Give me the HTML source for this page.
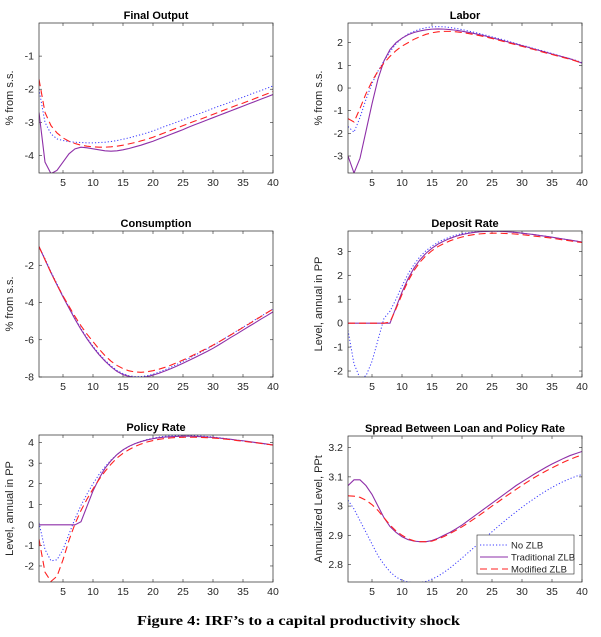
<!DOCTYPE html>
<html><head><meta charset="utf-8">
<style>
html,body{margin:0;padding:0;background:#fff;}
svg{display:block;font-family:"Liberation Sans",sans-serif;}
</style></head>
<body>
<svg id="fig" width="601" height="637" viewBox="0 0 601 637">
<text x="137" y="625" textLength="323" lengthAdjust="spacingAndGlyphs" font-family="Liberation Serif,serif" font-weight="bold" font-size="13.5">Figure 4: IRF’s to a capital productivity shock</text>
</svg>
<script>
const periods = Array.from({length:40},(_,i)=>i+1);
const xTicks = [5,10,15,20,25,30,35,40];
const panelTitles = ["Final Output","Labor","Consumption","Deposit Rate","Policy Rate","Spread Between Loan and Policy Rate"];
const yLabels = ["% from s.s.","% from s.s.","% from s.s.","Level, annual in PP","Level, annual in PP","Annualized Level, PPt"];
const yTicksOutput = [-4,-3,-2,-1];
const yTicksLabor = [-3,-2,-1,0,1,2];
const yTicksCons = [-8,-6,-4,-2];
const yTicksDep = [-2,-1,0,1,2,3];
const yTicksPol = [-2,-1,0,1,2,3,4];
const yTicksSpread = [2.8,2.9,3,3.1,3.2];
const yRanges = [[-4.53,0],[-3.75,2.87],[-8.0,-0.16],[-2.25,3.85],[-2.78,4.37],[2.74,3.24]];
const seriesNames = ["No ZLB","Traditional ZLB","Modified ZLB"];

const outNo=[-2.0,-3.0,-3.35,-3.5,-3.55,-3.58,-3.6,-3.61,-3.62,-3.62,-3.61,-3.6,-3.58,-3.55,-3.51,-3.47,-3.42,-3.37,-3.32,-3.26,-3.19,-3.12,-3.06,-2.99,-2.92,-2.85,-2.78,-2.72,-2.65,-2.58,-2.51,-2.45,-2.38,-2.31,-2.24,-2.17,-2.1,-2.04,-1.97,-1.9];
const outTrad=[-2.7,-4.2,-4.55,-4.45,-4.2,-3.95,-3.8,-3.75,-3.77,-3.8,-3.83,-3.86,-3.87,-3.86,-3.83,-3.79,-3.74,-3.69,-3.63,-3.57,-3.5,-3.43,-3.36,-3.29,-3.22,-3.14,-3.07,-3.0,-2.93,-2.86,-2.79,-2.72,-2.65,-2.58,-2.51,-2.44,-2.37,-2.3,-2.23,-2.16];
const outMod=[-1.7,-2.7,-3.1,-3.32,-3.47,-3.57,-3.64,-3.69,-3.72,-3.74,-3.75,-3.75,-3.74,-3.72,-3.69,-3.65,-3.61,-3.56,-3.51,-3.45,-3.38,-3.31,-3.24,-3.17,-3.1,-3.03,-2.96,-2.9,-2.83,-2.76,-2.69,-2.62,-2.55,-2.48,-2.42,-2.35,-2.28,-2.21,-2.14,-2.07];

const labNo=[-1.7,-1.95,-1.3,-0.5,0.2,0.75,1.2,1.6,1.95,2.2,2.38,2.5,2.6,2.66,2.7,2.71,2.7,2.67,2.63,2.58,2.52,2.46,2.4,2.33,2.26,2.19,2.12,2.04,1.97,1.89,1.82,1.74,1.67,1.6,1.52,1.45,1.37,1.3,1.22,1.12];
const labTrad=[-3.0,-3.75,-3.1,-1.9,-0.7,0.4,1.2,1.7,2.0,2.2,2.35,2.45,2.52,2.57,2.6,2.61,2.6,2.58,2.55,2.51,2.46,2.41,2.35,2.29,2.22,2.15,2.08,2.01,1.94,1.87,1.8,1.72,1.65,1.58,1.5,1.43,1.36,1.29,1.2,1.1];
const labMod=[-1.35,-1.5,-0.9,-0.25,0.3,0.75,1.1,1.4,1.65,1.85,2.0,2.15,2.27,2.37,2.44,2.48,2.5,2.5,2.48,2.45,2.41,2.36,2.31,2.25,2.19,2.12,2.05,1.98,1.91,1.84,1.77,1.7,1.62,1.55,1.48,1.41,1.34,1.27,1.19,1.1];

const conNo=[-1.0,-1.65,-2.35,-3.0,-3.65,-4.25,-4.85,-5.4,-5.9,-6.35,-6.75,-7.1,-7.4,-7.65,-7.82,-7.93,-7.98,-7.98,-7.93,-7.85,-7.74,-7.61,-7.47,-7.32,-7.16,-7.0,-6.83,-6.66,-6.49,-6.31,-6.12,-5.92,-5.72,-5.52,-5.33,-5.13,-4.93,-4.74,-4.54,-4.35];
const conTrad=[-1.0,-1.7,-2.4,-3.05,-3.7,-4.3,-4.9,-5.45,-5.95,-6.4,-6.8,-7.15,-7.45,-7.7,-7.87,-7.97,-8.02,-8.02,-7.98,-7.9,-7.8,-7.68,-7.55,-7.41,-7.26,-7.11,-6.95,-6.79,-6.63,-6.46,-6.27,-6.07,-5.87,-5.68,-5.48,-5.28,-5.09,-4.89,-4.7,-4.5];
const conMod=[-1.0,-1.7,-2.4,-3.05,-3.65,-4.2,-4.75,-5.25,-5.7,-6.1,-6.5,-6.85,-7.15,-7.38,-7.55,-7.67,-7.73,-7.75,-7.72,-7.66,-7.58,-7.48,-7.36,-7.23,-7.09,-6.94,-6.78,-6.62,-6.46,-6.29,-6.11,-5.92,-5.73,-5.54,-5.34,-5.15,-4.95,-4.75,-4.55,-4.35];

const depNo=[-0.3,-1.7,-2.3,-2.2,-1.6,-0.7,0.2,0.5,1.0,1.55,2.05,2.45,2.78,3.03,3.22,3.38,3.5,3.6,3.68,3.74,3.78,3.81,3.83,3.84,3.85,3.84,3.83,3.81,3.79,3.76,3.73,3.7,3.66,3.63,3.59,3.55,3.51,3.47,3.43,3.39];
const depTrad=[0,0,0,0,0,0,0,0,0.65,1.3,1.85,2.3,2.65,2.92,3.13,3.3,3.43,3.54,3.63,3.7,3.75,3.79,3.82,3.83,3.84,3.84,3.83,3.81,3.79,3.76,3.73,3.7,3.66,3.63,3.59,3.55,3.51,3.47,3.43,3.39];
const depMod=[0,0,0,0,0,0,0,0.05,0.6,1.2,1.75,2.2,2.55,2.82,3.03,3.2,3.33,3.44,3.53,3.6,3.66,3.7,3.73,3.75,3.76,3.76,3.75,3.74,3.72,3.7,3.67,3.64,3.61,3.58,3.55,3.51,3.47,3.44,3.4,3.37];

const polNo=[0.1,-1.2,-1.75,-1.7,-1.2,-0.45,0.3,0.95,1.5,2.0,2.45,2.82,3.15,3.42,3.64,3.81,3.95,4.06,4.15,4.22,4.27,4.31,4.33,4.35,4.35,4.35,4.34,4.32,4.3,4.27,4.24,4.2,4.16,4.12,4.08,4.04,4.0,3.96,3.92,3.89];
const polTrad=[0,0,0,0,0,0,0,0.15,0.9,1.65,2.25,2.75,3.12,3.42,3.65,3.82,3.95,4.05,4.13,4.19,4.24,4.27,4.29,4.3,4.31,4.31,4.3,4.29,4.27,4.25,4.22,4.19,4.16,4.12,4.09,4.05,4.01,3.97,3.93,3.89];
const polMod=[-0.7,-2.3,-2.75,-2.5,-1.7,-0.75,0.05,0.7,1.25,1.75,2.2,2.6,2.95,3.25,3.48,3.66,3.81,3.93,4.03,4.1,4.16,4.2,4.23,4.25,4.26,4.26,4.26,4.25,4.24,4.22,4.2,4.17,4.14,4.1,4.07,4.03,4.0,3.96,3.92,3.88];

const sprNo=[3.02,2.99,2.95,2.91,2.87,2.83,2.8,2.775,2.757,2.746,2.74,2.738,2.738,2.742,2.75,2.76,2.773,2.788,2.805,2.822,2.84,2.858,2.876,2.894,2.912,2.93,2.947,2.964,2.98,2.996,3.011,3.025,3.039,3.052,3.064,3.075,3.085,3.094,3.102,3.108];
const sprTrad=[3.07,3.09,3.09,3.07,3.04,3.0,2.96,2.93,2.91,2.895,2.885,2.88,2.878,2.878,2.882,2.89,2.9,2.91,2.922,2.935,2.95,2.965,2.98,2.995,3.01,3.025,3.04,3.055,3.07,3.083,3.096,3.109,3.121,3.133,3.144,3.154,3.164,3.173,3.18,3.187];
const sprMod=[3.035,3.034,3.03,3.02,3.005,2.985,2.96,2.935,2.915,2.9,2.888,2.881,2.878,2.878,2.88,2.887,2.896,2.906,2.917,2.929,2.942,2.956,2.97,2.985,3.0,3.014,3.029,3.043,3.057,3.071,3.084,3.097,3.109,3.12,3.131,3.141,3.151,3.16,3.168,3.175];

const NS="http://www.w3.org/2000/svg";
const svg=document.getElementById('fig');
function mk(tag,attrs,parent){const e=document.createElementNS(NS,tag);for(const k in attrs)e.setAttribute(k,attrs[k]);(parent||svg).appendChild(e);return e;}

const boxes=[[39,23,273,173],[348,23,582,173],[39,231,273,377],[348,231,582,377],[39,435,273,582],[348,436,582,582]];
const yTickSets=[yTicksOutput,yTicksLabor,yTicksCons,yTicksDep,yTicksPol,yTicksSpread];
const data=[[outNo,outTrad,outMod],[labNo,labTrad,labMod],[conNo,conTrad,conMod],[depNo,depTrad,depMod],[polNo,polTrad,polMod],[sprNo,sprTrad,sprMod]];
const styles=[{stroke:"#3a3aff",dash:"1.2,2",w:1},{stroke:"#8e2fa8",dash:"",w:1.1},{stroke:"#ff2020",dash:"7,4",w:1.1}];
const slugs=["final-output","labor","consumption","deposit-rate","policy-rate","spread"];

boxes.forEach((b,p)=>{
  const [x0,y0,x1,y1]=b;
  const g=mk('g',{});
  
  
  const [lo,hi]=yRanges[p];
  const sx=v=>x0+(v-1)/(40-1)*(x1-x0);
  const sy=v=>y1-(v-lo)/(hi-lo)*(y1-y0);
  const cid='clip'+p;
  const cp=mk('clipPath',{id:cid},g);mk('rect',{x:x0,y:y0,width:x1-x0,height:y1-y0},cp);
  const t=mk('text',{x:(x0+x1)/2,y:y0-4,'text-anchor':'middle','font-weight':'bold','font-size':'11',fill:'#000'},g);
  t.textContent=panelTitles[p];
  
  
  const lx=x0-26, ly=(y0+y1)/2;
  const yl=mk('text',{x:lx,y:ly,'text-anchor':'middle','font-size':'11',fill:'#262626',transform:`rotate(-90 ${lx} ${ly})`},g);
  yl.textContent=yLabels[p];
  
  
  xTicks.forEach(v=>{
    const x=sx(v);
    mk('line',{x1:x,y1:y1,x2:x,y2:y1-3,stroke:'#262626','stroke-width':0.6},g);
    mk('line',{x1:x,y1:y0,x2:x,y2:y0+3,stroke:'#262626','stroke-width':0.6},g);
    const tl=mk('text',{x:x,y:y1+13,'text-anchor':'middle','font-size':'10.5',fill:'#262626'},g);
    tl.textContent=v;
    
    
  });
  yTickSets[p].forEach(v=>{
    const y=sy(v);
    mk('line',{x1:x0,y1:y,x2:x0+3,y2:y,stroke:'#262626','stroke-width':0.6},g);
    mk('line',{x1:x1,y1:y,x2:x1-3,y2:y,stroke:'#262626','stroke-width':0.6},g);
    const tl=mk('text',{x:x0-5,y:y+3.5,'text-anchor':'end','font-size':'10.5',fill:'#262626'},g);
    tl.textContent=v;
    
    
  });
  data[p].forEach((s,i)=>{
    const st=styles[i];
    const d=s.map((v,k)=>(k?'L':'M')+sx(periods[k]).toFixed(2)+' '+sy(v).toFixed(2)).join(' ');
    const path=mk('path',{d:d,fill:'none',stroke:st.stroke,'stroke-width':st.w,'stroke-dasharray':st.dash,'clip-path':`url(#${cid})`},g);
    
    
  });
  const fr=mk('rect',{x:x0,y:y0,width:x1-x0,height:y1-y0,fill:'none',stroke:'#262626','stroke-width':0.7},g);
  
  
});

const lg=mk('g',{});


mk('rect',{x:477,y:535,width:97,height:39,fill:'#fff',stroke:'#262626','stroke-width':0.6},lg);
seriesNames.forEach((n,i)=>{
  const y=545+i*12;
  const st=styles[i];
  mk('line',{x1:480,y1:y,x2:508,y2:y,stroke:st.stroke,'stroke-width':st.w,'stroke-dasharray':st.dash},lg);
  const tx=mk('text',{x:511,y:y+3.5,'font-size':'9.5',fill:'#262626'},lg);
  tx.textContent=n;
  
  
});
</script>
</body></html>
